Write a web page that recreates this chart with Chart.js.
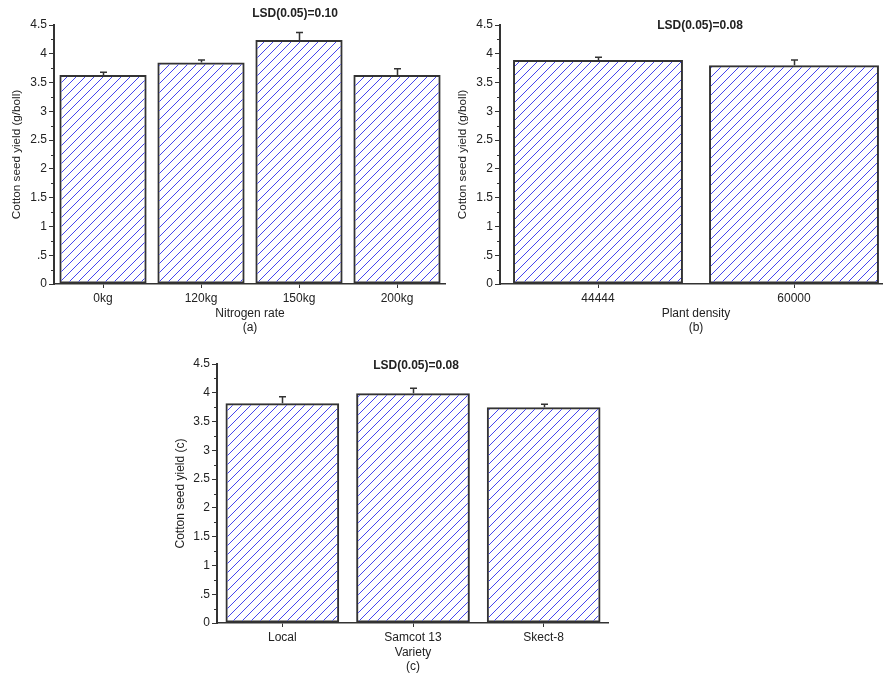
<!DOCTYPE html>
<html>
<head>
<meta charset="utf-8">
<script src="https://cdn.jsdelivr.net/npm/chart.js@4.4.1/dist/chart.umd.min.js"></script>
<style>
  html, body { margin: 0; padding: 0; background: #fff; width: 883px; height: 676px; overflow: hidden; position: relative; }
  canvas { position: absolute; }
</style>
</head>
<body>
<canvas id="panelA" width="446" height="340" style="left:0px;top:0px;width:446px;height:340px"></canvas>
<canvas id="panelB" width="446" height="340" style="left:446px;top:0px;width:446px;height:340px"></canvas>
<canvas id="panelC" width="446" height="339" style="left:163px;top:340px;width:446px;height:339px"></canvas>
<script>
// Panel (a): nitrogen rate
const nitrogenRates = ['0kg', '120kg', '150kg', '200kg'];
const nitrogenYield = [3.63, 3.85, 4.24, 3.63];
const nitrogenErr   = [0.05, 0.04, 0.13, 0.11];

// Panel (b): plant density
const plantDensities = ['44444', '60000'];
const densityYield   = [3.89, 3.80];
const densityErr     = [0.05, 0.09];

// Panel (c): variety
const varieties    = ['Local', 'Samcot 13', 'Skect-8'];
const varietyYield = [3.82, 3.99, 3.75];
const varietyErr   = [0.11, 0.09, 0.05];

// Shared y axis
const yTickLabels = ['0', '.5', '1', '1.5', '2', '2.5', '3', '3.5', '4', '4.5'];

const FONT = '"Liberation Sans", Arial, Helvetica, sans-serif';
const INK = '#222';
const AXIS = '#333';

Chart.defaults.font.family = FONT;
Chart.defaults.color = INK;

// Diagonal blue hatch used as the bar fill
function makeHatch() {
  const s = 9;
  const c = document.createElement('canvas');
  c.width = s; c.height = s;
  const g = c.getContext('2d');
  g.strokeStyle = '#4646ee';
  g.lineWidth = 1;
  g.beginPath();
  g.moveTo(-1, s + 1); g.lineTo(s + 1, -1);
  g.moveTo(-1, 1); g.lineTo(1, -1);
  g.moveTo(s - 1, s + 1); g.lineTo(s + 1, s - 1);
  g.stroke();
  return g.createPattern(c, 'repeat');
}
const hatch = makeHatch();

// Upward error bars with a small cap
const errorBars = {
  id: 'errorBars',
  afterDatasetsDraw(chart, args, opts) {
    const meta = chart.getDatasetMeta(0);
    const ys = chart.scales.y;
    const values = chart.data.datasets[0].data;
    const ctx = chart.ctx;
    ctx.save();
    ctx.strokeStyle = AXIS;
    ctx.lineWidth = 1.5;
    meta.data.forEach((bar, i) => {
      const v = values[i];
      const e = opts.values[i];
      const y0 = ys.getPixelForValue(v);
      const y1 = ys.getPixelForValue(v + e);
      const x = Math.round(bar.x) + 0.5;
      ctx.beginPath();
      ctx.moveTo(x, y0);
      ctx.lineTo(x, y1);
      ctx.moveTo(x - 3.5, y1);
      ctx.lineTo(x + 3.5, y1);
      ctx.stroke();
    });
    ctx.restore();
  }
};

// Short unlabeled ticks halfway between the labeled y ticks
const minorTicks = {
  id: 'minorTicks',
  afterDraw(chart) {
    const ys = chart.scales.y;
    const ctx = chart.ctx;
    ctx.save();
    ctx.strokeStyle = AXIS;
    ctx.lineWidth = 1;
    for (let k = 0; k < yTickLabels.length - 1; k++) {
      const y = Math.round(ys.getPixelForValue(k * 0.5 + 0.25)) + 0.5;
      ctx.beginPath();
      ctx.moveTo(ys.right - 3, y);
      ctx.lineTo(ys.right, y);
      ctx.stroke();
    }
    ctx.restore();
  }
};

// LSD note above each panel
const panelNote = {
  id: 'panelNote',
  afterDraw(chart, args, opts) {
    const a = chart.chartArea;
    const ctx = chart.ctx;
    ctx.save();
    ctx.font = 'bold 12px ' + FONT;
    ctx.fillStyle = INK;
    ctx.textAlign = 'center';
    ctx.textBaseline = 'middle';
    ctx.fillText(opts.text, (a.left + a.right) / 2 + opts.dx, a.top + opts.dy);
    ctx.restore();
  }
};

function drawPanel(id, labels, values, errors, cfg) {
  new Chart(document.getElementById(id), {
    type: 'bar',
    data: {
      labels: labels,
      datasets: [{
        data: values,
        backgroundColor: hatch,
        borderColor: '#333',
        borderWidth: 2,
        borderSkipped: false,
        barPercentage: cfg.barPct,
        categoryPercentage: 1
      }]
    },
    options: {
      responsive: false,
      animation: false,
      devicePixelRatio: 1,
      layout: { padding: { top: cfg.top, left: 0, right: 0, bottom: 0 } },
      plugins: {
        legend: { display: false },
        tooltip: { enabled: false },
        title: { display: false },
        panelNote: { text: cfg.note, dx: cfg.noteDx, dy: cfg.noteDy },
        errorBars: { values: errors }
      },
      scales: {
        x: {
          grid: { display: true, drawOnChartArea: false, offset: false, tickLength: 4, color: AXIS, lineWidth: 1 },
          border: { display: true, color: AXIS, width: 1.5 },
          ticks: { color: INK, font: { size: 12 }, padding: 3, maxRotation: 0, autoSkip: false },
          title: {
            display: true,
            text: cfg.xTitle,
            color: INK,
            font: { size: 12, lineHeight: 14 / 12 },
            padding: { top: 0, bottom: 5 }
          },
          afterFit: s => { s.height = 56; }
        },
        y: {
          min: 0,
          max: 4.5,
          grid: { display: true, drawOnChartArea: false, tickLength: 5, color: AXIS, lineWidth: 1 },
          border: { display: true, color: AXIS, width: 2 },
          ticks: {
            stepSize: 0.5,
            color: INK,
            font: { size: 12 },
            padding: 2,
            callback: v => yTickLabels[Math.round(v / 0.5)]
          },
          title: {
            display: true,
            text: cfg.yTitle,
            color: INK,
            font: { size: cfg.yTitleSize },
            padding: { top: 10, bottom: 0 }
          },
          afterFit: s => { s.width = 54; }
        }
      }
    },
    plugins: [errorBars, minorTicks, panelNote]
  });
}

drawPanel('panelA', nitrogenRates, nitrogenYield, nitrogenErr, {
  top: 25, barPct: 0.89, note: 'LSD(0.05)=0.10', noteDx: 45, noteDy: -11,
  xTitle: ['Nitrogen rate', '(a)'], yTitle: 'Cotton seed yield (g/boll)', yTitleSize: 11.7
});
drawPanel('panelB', plantDensities, densityYield, densityErr, {
  top: 25, barPct: 0.867, note: 'LSD(0.05)=0.08', noteDx: 4, noteDy: 1,
  xTitle: ['Plant density', '(b)'], yTitle: 'Cotton seed yield (g/boll)', yTitleSize: 11.7
});
drawPanel('panelC', varieties, varietyYield, varietyErr, {
  top: 24, barPct: 0.87, note: 'LSD(0.05)=0.08', noteDx: 3, noteDy: 2,
  xTitle: ['Variety', '(c)'], yTitle: 'Cotton seed yield (c)', yTitleSize: 12
});
</script>
</body>
</html>
